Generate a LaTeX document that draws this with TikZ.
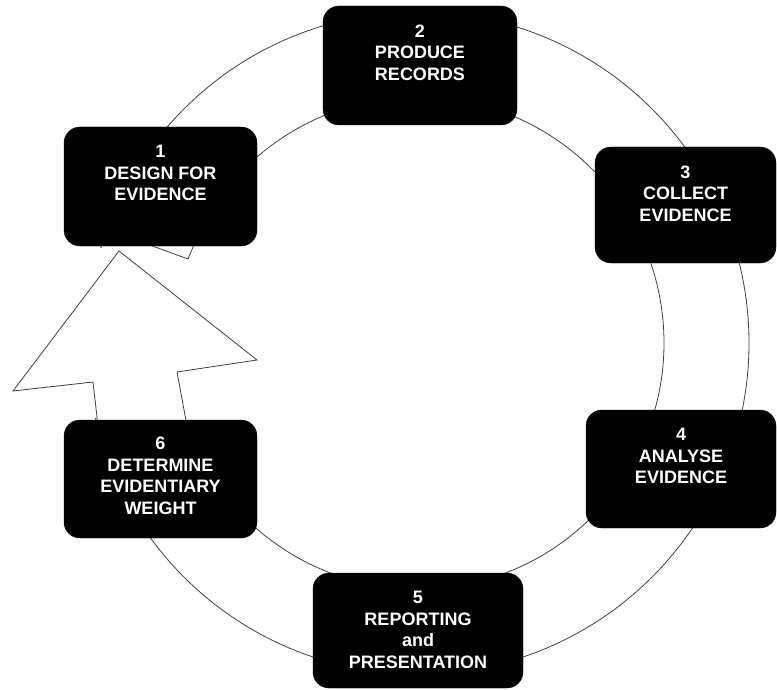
\documentclass[tikz,border=0pt]{standalone}
\usepackage{fontspec}
\setmainfont{Liberation Sans}
\begin{document}
\begin{tikzpicture}[x=1pt,y=-1pt,
  ring/.style={draw=black!75,line width=0.8pt},
  stage/.style={fill=black,draw=black,rounded corners=16pt,inner sep=0pt},
  stagetext/.style={text=white,font=\bfseries\fontsize{18}{21.5}\selectfont,align=center,inner sep=0pt,anchor=north},
  blockarrow/.style={fill=white,draw=black!75,line width=0.8pt,line join=miter}]
\useasboundingbox (0,0) rectangle (777,690);
% ring
\coordinate (c) at (418,343);
\draw[ring] (c) circle[radius=331];
\draw[ring] (c) circle[radius=246];
\fill[white] (0,248) rectangle (205,418);
% block arrow from 6 to 1
\draw[blockarrow] (119,251) -- (257,360) -- (177,372) -- (187,426) -- (98,426) -- (93,382) -- (13,391) -- cycle;
\draw[blockarrow] (136,240) -- (188,259) -- (196,240) -- cycle;
% stages
\node[stage,minimum width=193pt,minimum height=119pt] (s1) at (160.5,186.5) {};
\node[stage,minimum width=194pt,minimum height=119pt] (s2) at (420,65.5) {};
\node[stage,minimum width=181pt,minimum height=116pt] (s3) at (685.5,205) {};
\node[stage,minimum width=190pt,minimum height=118pt] (s4) at (681,469) {};
\node[stage,minimum width=210pt,minimum height=115pt] (s5) at (418,630.5) {};
\node[stage,minimum width=193pt,minimum height=118pt] (s6) at (160.5,479) {};
\node[stagetext] (t1) at ([yshift=-18.5pt]s1.north) {1\\DESIGN FOR\\EVIDENCE};
\node[stagetext] (t2) at ([yshift=-18.5pt]s2.north) {2\\PRODUCE\\RECORDS};
\node[stagetext] (t3) at ([yshift=-18.5pt]s3.north) {3\\COLLECT\\EVIDENCE};
\node[stagetext] (t4) at ([yshift=-18.5pt]s4.north) {4\\ANALYSE\\EVIDENCE};
\node[stagetext] (t5) at ([yshift=-18.5pt]s5.north) {5\\REPORTING\\and\\PRESENTATION};
\node[stagetext] (t6) at ([yshift=-17pt]s6.north) {6\\DETERMINE\\EVIDENTIARY\\WEIGHT};
\end{tikzpicture}
\end{document}
